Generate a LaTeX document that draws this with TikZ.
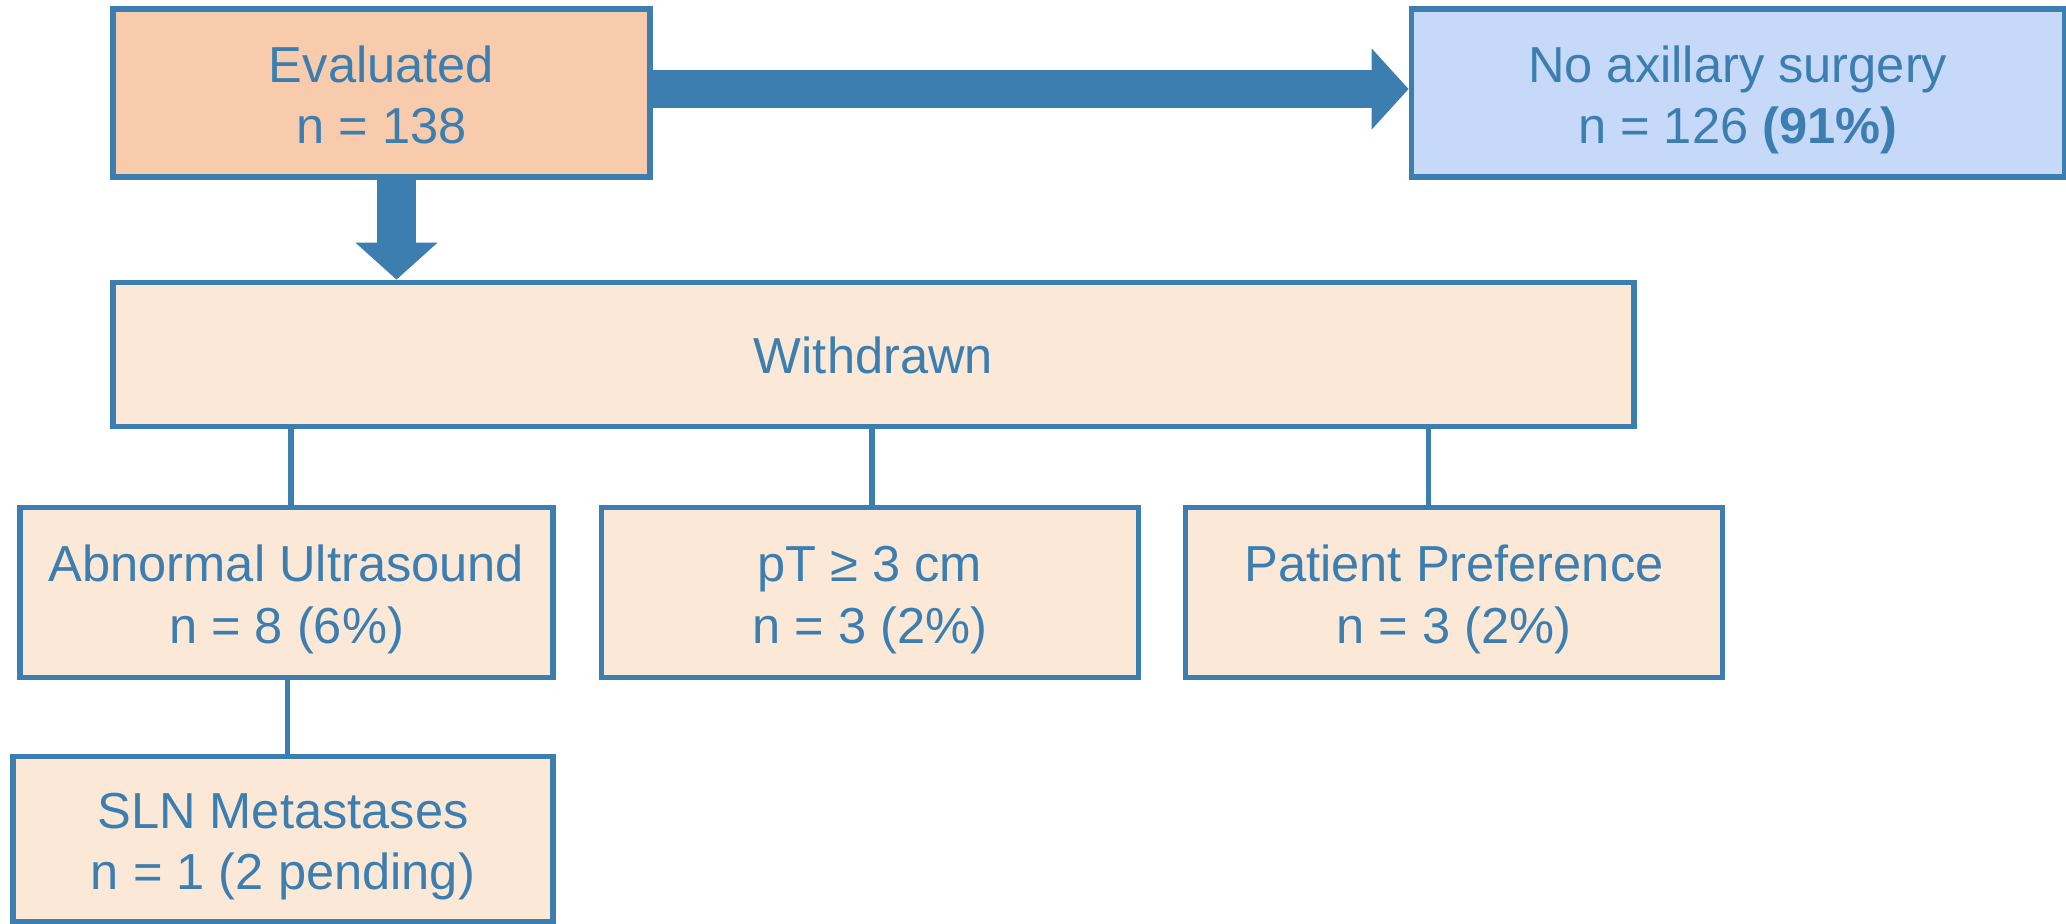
\documentclass[tikz,border=0pt]{standalone}
\usepackage{fontspec}
\setmainfont{Liberation Sans}
\usepackage{xcolor}
\usetikzlibrary{arrows.meta, positioning}

\definecolor{flowblue}{RGB}{60,126,176}
\definecolor{peach}{RGB}{247,203,172}
\definecolor{cream}{RGB}{251,232,215}
\definecolor{skyfill}{RGB}{198,217,249}

\begin{document}
\begin{tikzpicture}[
  node distance=8mm and 5mm,
  box/.style={draw=flowblue, line width=1.5pt, fill=cream, align=center, text=flowblue,
    font=\fontsize{14.4}{17.5}\selectfont, inner sep=2pt, minimum width=5.37cm, minimum height=1.68cm,
    text height=32.3pt, text depth=3.5pt},
  subbox/.style={box, minimum height=1.70cm},
  link/.style={draw=flowblue, line width=1.6pt},
  bigarr/.style={draw=flowblue, line width=3.8mm, -{Triangle[length=3.7mm, width=7.9mm]}},
  downarr/.style={draw=flowblue, line width=3.9mm, -{Triangle[length=3.7mm, width=8.0mm]}}
]
\useasboundingbox (0,0) rectangle (20.66,-9.23);

% top row
\node[box, fill=peach] (eval) at (3.815,-0.93) {Evaluated\\n = 138};
\node[box, fill=skyfill, minimum width=6.53cm, right=7.56cm of eval] (noax) {No axillary surgery\\n = 126 \textbf{(91\%)}};

% withdrawn and its reasons
\node[box, minimum width=15.21cm, minimum height=1.44cm, below=1.0cm of eval.south west, anchor=north west,
  text height=11pt, text depth=0pt] (withdrawn) {Withdrawn};

\node[subbox, minimum width=5.33cm, below=0.76cm of withdrawn.south west, anchor=north west, xshift=-0.93cm] (abus) {Abnormal Ultrasound\\n = 8 (6\%)};
\node[subbox, right=0.43cm of abus] (ptsize) {pT ≥ 3 cm\\n = 3 (2\%)};
\node[subbox, right=0.42cm of ptsize] (pref) {Patient Preference\\n = 3 (2\%)};

\node[subbox, minimum width=5.40cm, minimum height=1.65cm, below=0.74cm of abus.south east, anchor=north east] (sln) {SLN Metastases\\n = 1 (2 pending)};

% arrows
\draw[bigarr] ([yshift=0.4mm]eval.east) -- ([yshift=0.4mm]noax.west);
\draw[downarr] ([xshift=1.5mm]eval.south) -- ([xshift=1.5mm]eval.south |- withdrawn.north);

% tree links
\draw[link] ([xshift=0.45mm]abus.north) -- ([xshift=0.45mm]abus.north |- withdrawn.south);
\draw[link] ([xshift=0.25mm]ptsize.north) -- ([xshift=0.25mm]ptsize.north |- withdrawn.south);
\draw[link] ([xshift=-2.55mm]pref.north) -- ([xshift=-2.55mm]pref.north |- withdrawn.south);
\draw[link] ([xshift=0.45mm]sln.north) -- ([xshift=0.45mm]sln.north |- abus.south);

\end{tikzpicture}
\end{document}
